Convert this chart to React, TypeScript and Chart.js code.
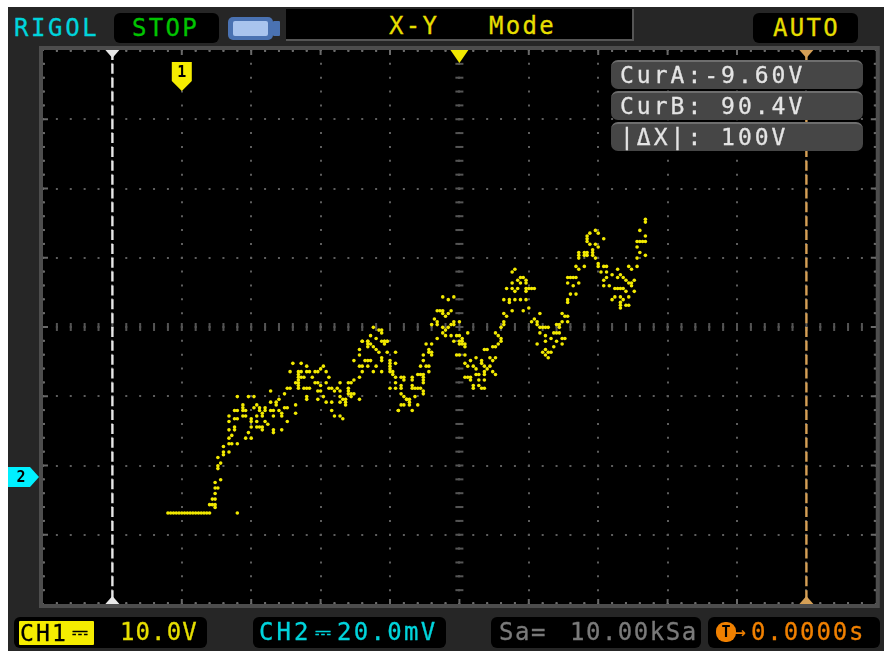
import React, { useEffect, useRef } from "react";
import { Chart, registerables } from "chart.js";

Chart.register(...registerables);

// X-Y trace: [CH1 volts, CH2 millivolts]
const baselinePoints = [[-1.6,-10.4],[-1.2,-10.4],[-0.8,-10.4],[-0.4,-10.4],[0,-10.4],[0.4,-10.4],[0.8,-10.4],[1.2,-10.4],[1.6,-10.4],[2,-10.4],[2.4,-10.4],[2.8,-10.4],[3.2,-10.4],[3.6,-10.4],[4,-10.4],[4.4,-10.4],[8.4,-10.4]];
const risePoints = [[4.4,-8],[4.8,-8],[5.2,-8],[5.2,-8.8],[4.8,-6.4],[5.2,-6.4],[5.2,-4.8],[5.2,-3.2],[5.6,-3.2],[5.2,-1.6],[6,-0.8],[5.6,2.4],[5.6,3.2],[6,4],[5.6,5.6],[6.4,6.4],[6.4,7.2],[7.2,7.2],[6.4,8.8],[7.2,9.6],[7.6,9.6],[8.4,9.6],[7.2,11.2],[7.6,12],[9.6,11.2],[10.4,11.2],[10,12.8]];
const plateauPoints = [[7.2,13.6],[8,13.6],[8,14.4],[7.2,16],[8,16.8],[8.4,16.8],[7.2,17.6],[9.2,17.6],[9.6,17.6],[8,19.2],[8.4,19.2],[9.2,20.8],[9.2,20],[9.2,19.2],[9.6,19.2],[8.4,23.2],[10,23.2],[10.8,23.2],[10.4,16.8],[10.4,16],[10.4,14.4],[11.2,17.6],[11.2,16],[11.2,14.4],[11.6,14.4],[12,14.4],[12,13.6],[12.4,16],[12.8,15.2],[13.6,13.6],[13.6,12.8],[14.8,13.6],[15.6,16],[13.6,17.6],[14.8,18.4],[14.8,17.6],[14.4,19.2],[13.2,19.2],[13.6,19.2],[12.4,20],[12.4,19.2],[12,18.4],[12,17.6],[11.6,19.2],[10.8,20],[11.2,20.8],[11.6,20],[13.2,21.6],[14,21.6],[14,20.8],[14.4,22.4],[13.2,24.8],[15.2,24],[15.6,25.6],[16,25.6],[15.2,20],[15.6,20],[16.8,20.8],[16.8,18.4]];
const humpTwoPoints = [[16.8,27.2],[17.2,28],[17.2,27.2],[17.2,26.4],[17.2,25.6],[17.2,30.4],[17.6,30.4],[17.2,29.6],[17.2,28.8],[17.6,28.8],[18,28.8],[16.4,32.8],[17.6,32.8],[18.4,32],[16,30.4],[18.4,30.4],[18.8,30.4],[19.6,30.4],[20,30.4],[20.4,31.2],[20.8,32],[21.2,30.4],[21.6,28.8],[19.2,28.8],[19.6,27.2],[20,27.2],[20.4,26.4],[21.2,27.2],[18,25.6],[18.4,25.6],[18.8,25.6],[20,24.8],[20.4,24.8],[18.4,23.2],[18.4,22.4],[20,22.4],[20.8,23.2],[21.2,21.6],[22,21.6],[21.6,25.6],[22,25.6],[22.4,24.8],[23.2,24.8],[23.2,27.2],[22.8,25.6],[24.4,27.2],[24.8,27.2],[25.2,28],[26,28.8],[22,19.2],[22.4,17.6],[23.2,17.6],[23.6,16.8],[23.2,23.2],[23.2,21.6],[23.6,22.4],[24,22.4],[24,21.6],[24,20.8],[24.4,25.6],[24.4,24.8],[24.4,24],[24.8,24],[25.2,24],[24.8,23.2],[26,22.4]];
const humpThreePoints = [[25.2,33.6],[26.4,30.4],[28,30.4],[29.2,30.4],[26,32],[26.4,32],[27.2,32],[28.4,32],[26.8,33.6],[27.2,33.6],[27.6,33.6],[26,36.8],[26,35.2],[26.4,39.2],[27.2,39.2],[27.2,38.4],[27.2,37.6],[27.6,38.4],[28,37.6],[28.4,36.8],[28.8,36],[29.2,34.4],[29.2,33.6],[29.6,39.2],[29.6,38.4],[30,39.2],[30,36],[31.2,36],[30.4,33.6],[30.4,32.8],[30.4,32],[30.4,31.2],[30.4,30.4],[30.8,30.4],[31.2,32.8],[30.8,29.6],[31.2,28.8],[31.2,27.2],[31.2,25.6],[30.4,25.6],[31.6,19.2],[28,43.2],[28.8,42.4],[29.2,42.4],[29.2,41.6],[27.6,40.8],[28.4,40],[26.4,39.2],[27.2,39.2],[29.2,39.2],[29.6,39.2],[30,39.2]];
const troughOnePoints = [[32,28.8],[32.4,28.8],[32.4,28],[32,26.4],[32,25.6],[33.6,28.8],[33.6,28],[33.6,26.4],[33.6,25.6],[34.4,29.6],[34.8,29.6],[35.2,29.6],[35.2,28.8],[35.2,28],[35.2,27.2],[34,25.6],[34.4,25.6],[34.8,25.6],[35.2,24.8],[35.2,24],[32,24],[32.4,23.2],[32.8,22.4],[34,23.2],[36,30.4],[34.8,32],[35.6,32],[35.2,33.6],[35.2,35.2],[36,32],[36,36.8],[36,36],[36.4,36],[36.4,35.2],[35.6,38.4],[36.4,38.4],[37.2,40],[32,20.8],[32.4,20.8],[32.8,22.4],[33.2,22.4],[33.2,21.6],[33.2,20.8],[31.6,19.2],[33.6,19.2],[34.4,20.8]];
const humpFourPoints = [[36.4,44],[36.8,45.6],[37.2,44.8],[37.2,44],[37.2,48],[37.6,48],[38,48],[38,47.2],[38.4,46.4],[38.8,47.2],[39.2,48],[38,52],[38.8,51.2],[39.6,52],[38,43.2],[38.4,42.4],[38.8,43.2],[39.2,44],[39.6,44.8],[39.6,44],[40.4,44.8],[38,41.6],[38.4,40.8],[39.2,40.8],[39.6,39.2],[40,40.8],[40.4,40.8],[40.8,40],[40.8,39.2],[40.4,39.2],[40.4,38.4],[40.8,38.4],[41.2,38.4],[41.2,37.6],[41.6,41.6],[40,35.2],[40.4,35.2],[41.2,35.2]];
const troughTwoPoints = [[42,33.6],[41.2,32.8],[41.6,32],[42.4,32],[42.8,34.4],[43.6,33.6],[43.6,32.8],[44.8,34.4],[45.6,34.4],[45.2,33.6],[42.8,31.2],[42.8,29.6],[44,32],[44.8,32],[44.4,31.2],[44,30.4],[44,29.6],[45.2,30.4],[45.6,29.6],[41.2,28.8],[41.6,28.8],[42,28.8],[42,28],[42.4,26.4],[42.4,25.6],[43.2,29.6],[43.2,28],[43.2,26.4],[43.6,25.6],[44,25.6],[44,28]];
const humpFivePoints = [[44,36.8],[44.4,36.8],[45.2,37.6],[45.6,37.6],[46,38.4],[46.4,39.2],[45.6,41.6],[46,40.8],[46.4,40],[46.4,43.2],[46.8,44],[46.8,44.8],[46.8,47.2],[47.2,46.4],[46.8,51.2],[47.6,51.2],[47.6,50.4],[48.4,51.2],[49.2,51.2],[50,51.2],[48,48],[49.6,48],[50.4,48.8],[47.2,54.4],[48,56],[48,54.4],[48.4,53.6],[48.8,56.8],[49.2,57.6],[49.6,57.6],[49.2,56],[48.8,54.4],[50,56.8],[50,56],[50,54.4],[50,53.6],[50.4,54.4],[50.8,54.4],[51.2,54.4],[48,59.2],[48.4,60]];
const troughThreePoints = [[51.2,45.6],[50.8,44.8],[52,47.2],[51.6,44.8],[51.6,44],[52,43.2],[52.4,43.2],[52.8,43.2],[53.2,43.2],[52,41.6],[52.8,40.8],[52.8,39.2],[53.6,40],[51.6,38.4],[54.4,44],[54,41.6],[54.4,41.6],[54.8,41.6],[54.4,39.2],[54,37.6],[53.6,36],[53.2,36],[52.8,36.8],[52.4,36],[52.8,35.2],[53.2,34.4],[55.2,47.2],[55.6,46.4],[56,46.4],[56,44.8],[55.2,44.8],[54.8,44],[54.8,43.2],[55.2,40],[55.6,40],[55.2,38.4]];
const humpSixPoints = [[56,57.6],[56.4,57.6],[56.8,57.6],[57.2,57.6],[56,56],[57.6,56],[56.8,55.2],[56.4,52.8],[57.2,52.8],[56,51.2],[56,50.4],[60,71.2],[60.4,70.4],[59.2,70.4],[58.8,69.6],[58.8,68.8],[58.8,68],[59.2,67.2],[61.2,68.8],[60,67.2],[60.4,66.4],[59.6,65.6],[59.6,64.8],[59.6,64],[57.6,64.8],[57.6,64],[57.6,63.2],[58.4,64.8],[58.8,64.8],[58.4,64],[58.8,64],[60,63.2],[60.4,61.6],[60.4,60.8],[57.2,60.8],[57.6,60],[58.4,60.8]];
const lastFallPoints = [[61.2,60.8],[61.6,60.8],[60.8,59.2],[61.6,59.2],[62.4,58.4],[63.2,60],[63.6,58.4],[64,57.6],[64.4,56.8],[61.6,57.6],[61.2,56.8],[62,55.2],[61.2,55.2],[63.2,57.6],[64.8,56],[65.2,56],[65.6,56.8],[65.2,55.2],[62.8,54.4],[63.2,54.4],[63.6,54.4],[64,54.4],[64.4,53.6],[64.8,52],[65.6,53.6],[62.8,52],[62.4,51.2],[63.6,52],[64,51.2],[63.6,50.4],[63.6,49.6],[63.6,48.8],[64.4,49.6],[64.8,49.6]];
const finalRisePoints = [[67.2,74.4],[67.2,73.6],[66.4,71.2],[67.2,69.6],[66,68],[66.4,68],[66.8,68],[67.2,68],[66,66.4],[66.4,64.8],[67.2,64],[66,63.2],[64.8,60.8],[65.2,60],[66,60.8]];

const traceSegments = [baselinePoints, risePoints, plateauPoints, humpTwoPoints, humpThreePoints, troughOnePoints, humpFourPoints, troughTwoPoints, humpFivePoints, troughThreePoints, humpSixPoints, lastFallPoints, finalRisePoints];

const xGridVolts = [-19.6, -9.6, 0.4, 10.4, 20.4, 30.4, 40.4, 50.4, 60.4, 70.4, 80.4, 90.4, 100.4];
const yGridMillivolts = [-36.7, -16.7, 3.3, 23.3, 43.3, 63.3, 83.3, 103.3, 123.3];
const cursorAVolts = -9.6;
const cursorBVolts = 90.4;
const triggerVolts = 40.4;
const ch1MarkerVolts = 0.4;
const ch2ZeroMillivolts = 0;

const font = '"DejaVu Sans Mono", monospace';

const scopePlugin = {
  id: "scopeDecor",
  beforeDraw(chart: any) {
    const { ctx, chartArea: a } = chart;
    ctx.save();
    ctx.fillStyle = "#000";
    ctx.fillRect(a.left, a.top, a.right - a.left, a.bottom - a.top);
    ctx.restore();
  },
  beforeDatasetsDraw(chart: any) {
    const { ctx, chartArea: a, scales } = chart;
    const { x } = scales;
    const stepX = (a.right - a.left) / 60;
    const stepY = (a.bottom - a.top) / 40;
    const cx = (a.left + a.right) / 2;
    const cy = (a.top + a.bottom) / 2;
    ctx.save();
    // centre axes graduated every fifth of a division
    ctx.fillStyle = "#545454";
    for (let i = 1; i < 40; i++) ctx.fillRect(cx - 4, a.top + i * stepY - 1, 8, 2);
    for (let i = 1; i < 60; i++) ctx.fillRect(a.left + i * stepX - 1, cy - 4, 2, 8);
    // frame
    ctx.strokeStyle = "#4d4d4d";
    ctx.lineWidth = 4;
    ctx.strokeRect(a.left - 2, a.top - 2, a.right - a.left + 4, a.bottom - a.top + 4);
    // frame graduations
    ctx.fillStyle = "#6a6a6a";
    for (let i = 1; i < 60; i++) {
      const len = i % 5 === 0 ? 5 : 2;
      const px = a.left + i * stepX - 1;
      ctx.fillRect(px, a.top, 2, len);
      ctx.fillRect(px, a.bottom - len, 2, len);
    }
    for (let i = 1; i < 40; i++) {
      const len = i % 5 === 0 ? 5 : 2;
      const py = a.top + i * stepY - 1;
      ctx.fillRect(a.left, py, len, 2);
      ctx.fillRect(a.right - len, py, len, 2);
    }
    // cursors
    const drawCursor = (value: number, color: string) => {
      const px = x.getPixelForValue(value);
      ctx.strokeStyle = color;
      ctx.fillStyle = color;
      ctx.lineWidth = 2.4;
      ctx.setLineDash([10, 3.85]);
      ctx.beginPath();
      ctx.moveTo(px, a.top);
      ctx.lineTo(px, a.bottom);
      ctx.stroke();
      ctx.setLineDash([]);
      ctx.beginPath();
      ctx.moveTo(px - 7, a.top);
      ctx.lineTo(px + 7, a.top);
      ctx.lineTo(px, a.top + 8);
      ctx.closePath();
      ctx.fill();
      ctx.beginPath();
      ctx.moveTo(px - 7, a.bottom);
      ctx.lineTo(px + 7, a.bottom);
      ctx.lineTo(px, a.bottom - 8);
      ctx.closePath();
      ctx.fill();
    };
    drawCursor(cursorAVolts, "#e8e8e8");
    drawCursor(cursorBVolts, "#d6a056");
    // trigger position
    const tx = x.getPixelForValue(triggerVolts);
    ctx.fillStyle = "#f0e800";
    ctx.beginPath();
    ctx.moveTo(tx - 9, a.top);
    ctx.lineTo(tx + 9, a.top);
    ctx.lineTo(tx, a.top + 13);
    ctx.closePath();
    ctx.fill();
    // channel 1 marker
    const mx = x.getPixelForValue(ch1MarkerVolts);
    ctx.fillStyle = "#f5ec00";
    ctx.beginPath();
    ctx.moveTo(mx - 10, a.top + 12);
    ctx.lineTo(mx + 10, a.top + 12);
    ctx.lineTo(mx + 10, a.top + 31);
    ctx.lineTo(mx, a.top + 41);
    ctx.lineTo(mx - 10, a.top + 31);
    ctx.closePath();
    ctx.fill();
    ctx.fillStyle = "#000";
    ctx.font = `bold 15px ${font}`;
    ctx.textAlign = "center";
    ctx.textBaseline = "middle";
    ctx.fillText("1", mx, a.top + 23);
    ctx.restore();
  },
  afterDraw(chart: any) {
    const { ctx, scales } = chart;
    const py = scales.y.getPixelForValue(ch2ZeroMillivolts);
    ctx.save();
    ctx.fillStyle = "#00f0ff";
    ctx.beginPath();
    ctx.moveTo(8, py - 10);
    ctx.lineTo(30, py - 10);
    ctx.lineTo(39, py);
    ctx.lineTo(30, py + 10);
    ctx.lineTo(8, py + 10);
    ctx.closePath();
    ctx.fill();
    ctx.fillStyle = "#000";
    ctx.font = `bold 15px ${font}`;
    ctx.textAlign = "center";
    ctx.textBaseline = "middle";
    ctx.fillText("2", 21, py + 1);
    ctx.restore();
  },
};

type LabelProps = { left: number; top: number; color: string; size?: number; spacing?: number; children: React.ReactNode; };

function Label({ left, top, color, size = 24, spacing = 2.3, children }: LabelProps) {
  return (
    <div
      style={{
        position: "absolute",
        left,
        top,
        color,
        fontFamily: font,
        fontSize: size,
        letterSpacing: spacing,
        lineHeight: "30px",
        height: 30,
        whiteSpace: "pre",
        WebkitTextStroke: `0.3px ${color}`,
      }}
    >
      {children}
    </div>
  );
}

function Box({ left, top, width, height, bg = "#000", radius = 4, extra }: any) {
  return <div style={{ position: "absolute", left, top, width, height, background: bg, borderRadius: radius, ...extra }} />;
}

function CursorRow({ top, text }: { top: number; text: string }) {
  return (
    <>
      <Box left={611} top={top} width={252} height={29} bg="#464646" radius={7} extra={{ borderTop: "2px solid #6e6e6e", boxSizing: "border-box" }} />
      <Label left={620} top={top} color="#e4e4e4" size={23} spacing={3}>{text}</Label>
    </>
  );
}

export default function App() {
  const ref = useRef<HTMLCanvasElement>(null);
  useEffect(() => {
    const points = traceSegments.flat().map(([v, mv]) => ({ x: v, y: mv }));
    const chart = new Chart(ref.current!, {
      type: "scatter",
      data: {
        datasets: [
          {
            label: "X-Y trace",
            data: points,
            pointStyle: "circle",
            pointRadius: 1.8,
            pointBorderWidth: 0,
            backgroundColor: "#f2e900",
          },
        ],
      },
      options: {
        responsive: false,
        animation: false,
        layout: { padding: { left: 43, right: 8.2, top: 50, bottom: 47 } },
        plugins: { legend: { display: false }, tooltip: { enabled: false } },
        scales: {
          x: {
            type: "linear",
            min: xGridVolts[0],
            max: xGridVolts[xGridVolts.length - 1],
            afterBuildTicks: (s: any) => { s.ticks = xGridVolts.map((value) => ({ value })); },
            ticks: { display: false },
            grid: { color: "#5e5e5e", lineWidth: 2, drawTicks: false },
            border: { display: false, dash: [2, 11.85], dashOffset: 1 },
          },
          y: {
            type: "linear",
            min: yGridMillivolts[0],
            max: yGridMillivolts[yGridMillivolts.length - 1],
            afterBuildTicks: (s: any) => { s.ticks = yGridMillivolts.map((value) => ({ value })); },
            ticks: { display: false },
            grid: { color: "#5e5e5e", lineWidth: 2, drawTicks: false },
            border: { display: false, dash: [2, 11.88], dashOffset: 1 },
          },
        },
      },
      plugins: [scopePlugin],
    } as any);
    return () => chart.destroy();
  }, []);

  return (
    <div style={{ position: "fixed", left: 0, top: 0, width: 884, height: 651, background: "#fff", overflow: "hidden", filter: "blur(0.5px)" }}>
      <div style={{ position: "absolute", left: 8, top: 7, width: 880, height: 648, background: "#262626" }} />

      <Label left={14} top={13} color="#00d4dc" spacing={2.6}>RIGOL</Label>
      <Box left={114} top={13} width={105} height={30} radius={6} />
      <Label left={132} top={13} color="#00c400">STOP</Label>

      <Box left={228} top={17} width={45} height={23} bg="#4a72b2" radius={5} />
      <Box left={273} top={21} width={7} height={15} bg="#4a72b2" radius={1} />
      <Box left={233} top={21} width={35} height={15} bg="#a9c4ee" radius={2} />

      <Box left={286} top={9} width={348} height={32} radius={0} extra={{ borderRight: "2px solid #555", borderBottom: "2px solid #555", boxSizing: "border-box" }} />
      <Label left={389} top={11} color="#e6de00">X-Y</Label>
      <Label left={489} top={11} color="#e6de00">Mode</Label>

      <Box left={753} top={13} width={105} height={30} radius={6} />
      <Label left={773} top={13} color="#e6de00">AUTO</Label>

      <canvas ref={ref} width={884} height={651} style={{ position: "absolute", left: 0, top: 0, display: "block" }} />

      <CursorRow top={60} text="CurA:-9.60V" />
      <CursorRow top={91} text="CurB: 90.4V" />
      <CursorRow top={122} text="|ΔX|: 100V" />

      <Box left={14} top={617} width={193} height={31} radius={6} />
      <Box left={19} top={621} width={75} height={24} bg="#f5ec00" radius={1} />
      <Label left={20} top={618} color="#000" size={23} spacing={2.2}>CH1</Label>
      <Label left={72} top={617} color="#000" size={20} spacing={0}>⎓</Label>
      <Label left={120} top={617} color="#e6de00" spacing={1.1}>10.0V</Label>

      <Box left={253} top={617} width={193} height={31} radius={6} />
      <Label left={259} top={617} color="#00d4dc" spacing={3}>CH2</Label>
      <Label left={315} top={617} color="#00d4dc" size={20} spacing={0}>⎓</Label>
      <Label left={337} top={617} color="#00d4dc" spacing={2.3}>20.0mV</Label>

      <Box left={491} top={617} width={210} height={31} radius={6} />
      <Label left={499} top={617} color="#7a7a7a" spacing={1.6}>Sa=</Label>
      <Label left={570} top={617} color="#7a7a7a" spacing={1.5}>10.00kSa</Label>

      <Box left={708} top={617} width={172} height={31} radius={6} />
      <div style={{ position: "absolute", left: 716, top: 622, width: 20, height: 20, borderRadius: 9, background: "#f08000", color: "#000", fontFamily: font, fontWeight: "bold", fontSize: 15, lineHeight: "20px", textAlign: "center" }}>T</div>
      <Label left={735} top={617} color="#f08000" size={18} spacing={0}>→</Label>
      <Label left={751} top={617} color="#f08000" spacing={1.9}>0.0000s</Label>
    </div>
  );
}
